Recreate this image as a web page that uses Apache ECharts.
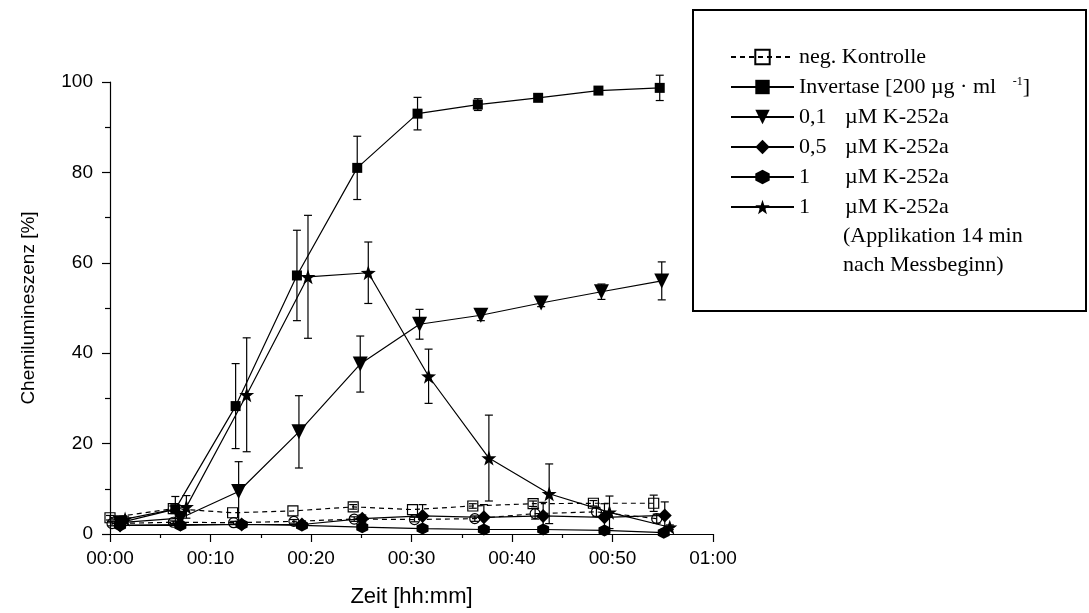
<!DOCTYPE html>
<html>
<head>
<meta charset="utf-8">
<script src="https://cdn.jsdelivr.net/npm/echarts@6/dist/echarts.min.js"></script>
<style>
  html, body { margin: 0; padding: 0; background: #fff; }
  #chart { width: 1089px; height: 613px; }
</style>
</head>
<body>
<div id="chart"></div>
<script>
// Zeitpunkte [min], Messwerte [%] und Fehler (Standardabweichung)
const negT = [0, 6.3, 12.2, 18.2, 24.2, 30.1, 36.1, 42.1, 48.1, 54.1];
const negV = [3.6, 5.6, 4.7, 5.1, 6.0, 5.4, 6.2, 6.7, 6.8, 6.8];
const negE = [0.5, 0.6, 0, 0, 0.5, 0, 0.5, 0.6, 0.6, 1.8];

const circT = [0.2, 6.3, 12.3, 18.3, 24.3, 30.3, 36.3, 42.3, 48.4, 54.4];
const circV = [2.3, 2.6, 2.5, 2.8, 3.3, 3.2, 3.4, 4.5, 4.9, 3.4];
const circE = [0.5, 0.3, 0.3, 0.4, 0.5, 0.5, 0.6, 1.2, 1.0, 1.0];

const invT = [1, 6.5, 12.5, 18.6, 24.6, 30.6, 36.6, 42.6, 48.6, 54.7];
const invV = [2.5, 5.5, 28.3, 57.2, 81.0, 93.0, 95.0, 96.5, 98.1, 98.7];
const invE = [0.5, 2.8, 9.4, 10.0, 7.0, 3.6, 1.3, 0.5, 0.6, 2.8];

const triT = [1, 7, 12.8, 18.8, 24.9, 30.8, 36.9, 42.9, 48.9, 54.9];
const triV = [2.5, 3.5, 9.4, 22.6, 37.6, 46.4, 48.4, 51.1, 53.6, 56.0];
const triE = [0.5, 1.0, 6.6, 8.0, 6.2, 3.3, 1.2, 0.8, 1.7, 4.2];

const diaT = [1, 7, 13.1, 19.1, 25.1, 31.1, 37.2, 43.1, 49.2, 55.2];
const diaV = [1.9, 2.1, 2.1, 2.1, 3.4, 4.0, 3.7, 4.0, 3.7, 4.1];
const diaE = [0.3, 0.3, 0.3, 0.3, 0.8, 2.5, 2.8, 3.0, 3.0, 3.0];

const hexT = [1, 7, 13.1, 19.1, 25.1, 31.1, 37.2, 43.1, 49.2, 55.1];
const hexV = [1.9, 1.9, 2.1, 1.9, 1.5, 1.2, 1.0, 1.0, 0.8, 0.3];
const hexE = [0, 0, 0, 0, 0, 0, 0, 0, 0, 0];

const starT = [1.5, 7.6, 13.6, 19.7, 25.7, 31.7, 37.7, 43.7, 49.7, 55.7];
const starV = [3.3, 6.0, 30.8, 56.9, 57.8, 34.9, 16.8, 8.9, 4.8, 1.5];
const starE = [0.5, 2.5, 12.6, 13.6, 6.8, 6.0, 9.5, 6.6, 3.6, 0.5];

const legendNames = ['neg. Kontrolle', 'Invertase', '0,1 µM', '0,5 µM', '1 µM', '1 µM (14 min)'];
const legendLabels = {
  'neg. Kontrolle': '{t|neg. Kontrolle}',
  'Invertase': '{t|Invertase [200 µg · ml   }{s|-1}{t|]}',
  '0,1 µM': '{n|0,1}{t|µM K-252a}',
  '0,5 µM': '{n|0,5}{t|µM K-252a}',
  '1 µM': '{n|1}{t|µM K-252a}',
  '1 µM (14 min)': '{n|1}{t|µM K-252a}'
};

const starPath = 'path://M0,-10L2.35,-3.24L9.51,-3.09L3.8,1.24L5.88,8.09L0,4L-5.88,8.09L-3.8,1.24L-9.51,-3.09L-2.35,-3.24Z';
const hexPath = 'path://M0,-10L8.66,-5L8.66,5L0,10L-8.66,5L-8.66,-5Z';

const pairs = (t, v) => t.map((x, i) => [x, v[i]]);
const bars = (t, v, e) => t.map((x, i) => [x, v[i] - e[i], v[i] + e[i], e[i]]);

const fmtTime = (m) => {
  const h = Math.floor(m / 60);
  const mm = m % 60;
  return String(h).padStart(2, '0') + ':' + String(mm).padStart(2, '0');
};

// Fehlerbalken mit Kappen
const renderErrorBar = (params, api) => {
  if (api.value(3) <= 0) return null;
  const x = api.value(0);
  const top = api.coord([x, api.value(2)]);
  const bot = api.coord([x, api.value(1)]);
  const w = 4;
  const st = { stroke: '#000', lineWidth: 1.2 };
  return {
    type: 'group',
    children: [
      { type: 'line', shape: { x1: top[0], y1: top[1], x2: bot[0], y2: bot[1] }, style: st },
      { type: 'line', shape: { x1: top[0] - w, y1: top[1], x2: top[0] + w, y2: top[1] }, style: st },
      { type: 'line', shape: { x1: bot[0] - w, y1: bot[1], x2: bot[0] + w, y2: bot[1] }, style: st }
    ]
  };
};

const errSeries = (t, v, e) => ({
  type: 'custom',
  renderItem: renderErrorBar,
  data: bars(t, v, e),
  encode: { x: 0, y: [1, 2] },
  z: 1,
  silent: true
});

const lineSeries = (name, t, v, symbol, size, filled, dashed, rotate) => ({
  name: name,
  type: 'line',
  data: pairs(t, v),
  symbol: symbol,
  symbolSize: size,
  symbolRotate: rotate || 0,
  showAllSymbol: true,
  z: 3,
  lineStyle: { color: '#000', width: 1.2, type: dashed ? [5, 4] : 'solid' },
  itemStyle: filled
    ? { color: '#000', borderColor: '#000', borderWidth: 0 }
    : { color: 'rgba(255,255,255,0)', borderColor: '#000', borderWidth: 1.2 }
});

const chart = echarts.init(document.getElementById('chart'));
chart.setOption({
  backgroundColor: '#fff',
  animation: false,
  grid: { left: 110, right: 376, top: 82, bottom: 78 },
  xAxis: {
    type: 'value',
    min: 0,
    max: 60,
    interval: 10,
    name: 'Zeit [hh:mm]',
    nameLocation: 'middle',
    nameGap: 52,
    nameTextStyle: { fontFamily: 'Liberation Sans', fontSize: 22, color: '#000' },
    axisLine: { lineStyle: { color: '#000', width: 1.2 } },
    axisTick: { length: 8, lineStyle: { color: '#000', width: 1.2 } },
    minorTick: { show: true, splitNumber: 2, length: 4, lineStyle: { color: '#000', width: 1.2 } },
    splitLine: { show: false },
    axisLabel: {
      margin: 15,
      fontFamily: 'Liberation Sans',
      fontSize: 19,
      color: '#000',
      formatter: fmtTime
    }
  },
  yAxis: {
    type: 'value',
    min: 0,
    max: 100,
    interval: 20,
    name: 'Chemilumineszenz [%]',
    nameLocation: 'middle',
    nameGap: 72,
    nameTextStyle: { fontFamily: 'Liberation Sans', fontSize: 19, color: '#000' },
    axisLine: { show: true, lineStyle: { color: '#000', width: 1.2 } },
    axisTick: { show: true, length: 8, lineStyle: { color: '#000', width: 1.2 } },
    minorTick: { show: true, splitNumber: 2, length: 5, lineStyle: { color: '#000', width: 1.2 } },
    splitLine: { show: false },
    axisLabel: { margin: 17, fontFamily: 'Liberation Sans', fontSize: 19, color: '#000' }
  },
  legend: {
    data: legendNames,
    orient: 'vertical',
    left: 730,
    top: 46,
    padding: 0,
    itemWidth: 63,
    itemHeight: 18,
    itemGap: 8,
    selectedMode: false,
    formatter: (name) => legendLabels[name],
    textStyle: {
      color: '#000',
      fontFamily: 'Liberation Serif',
      fontSize: 22,
      rich: {
        t: { fontFamily: 'Liberation Serif', fontSize: 22, color: '#000', lineHeight: 22 },
        n: { fontFamily: 'Liberation Serif', fontSize: 22, color: '#000', lineHeight: 22, width: 46 },
        s: { fontFamily: 'Liberation Serif', fontSize: 12, color: '#000', lineHeight: 22, verticalAlign: 'top', padding: [0, 0, 9, 0] }
      }
    }
  },
  graphic: [
    {
      type: 'rect',
      shape: { x: 693, y: 10, width: 393, height: 301 },
      style: { fill: 'none', stroke: '#000', lineWidth: 2 }
    },
    {
      type: 'text',
      x: 843,
      y: 236,
      style: { text: '(Applikation 14 min', fontFamily: 'Liberation Serif', fontSize: 22, fill: '#000', verticalAlign: 'middle' }
    },
    {
      type: 'text',
      x: 843,
      y: 265,
      style: { text: 'nach Messbeginn)', fontFamily: 'Liberation Serif', fontSize: 22, fill: '#000', verticalAlign: 'middle' }
    }
  ],
  series: [
    errSeries(negT, negV, negE),
    errSeries(circT, circV, circE),
    errSeries(invT, invV, invE),
    errSeries(triT, triV, triE),
    errSeries(diaT, diaV, diaE),
    errSeries(hexT, hexV, hexE),
    errSeries(starT, starV, starE),
    lineSeries('neg. Kontrolle', negT, negV, 'rect', 10, false, true),
    lineSeries('Kontrolle (offen)', circT, circV, 'circle', 10, false, true),
    lineSeries('Invertase', invT, invV, 'rect', 10, true, false),
    lineSeries('0,1 µM', triT, triV, 'triangle', 15, true, false, 180),
    lineSeries('0,5 µM', diaT, diaV, 'diamond', 14, true, false),
    lineSeries('1 µM', hexT, hexV, hexPath, 12, true, false),
    lineSeries('1 µM (14 min)', starT, starV, starPath, 15, true, false)
  ]
});
</script>
</body>
</html>
